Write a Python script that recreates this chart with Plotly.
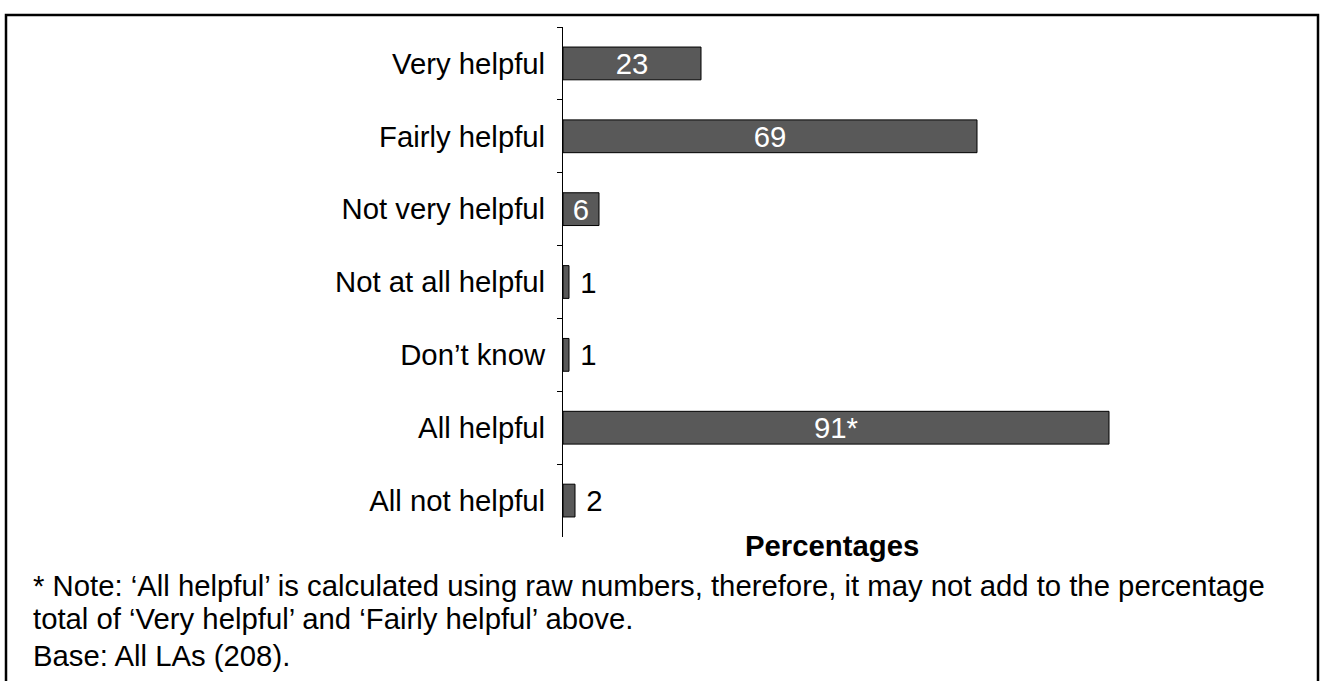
import plotly.graph_objects as go

categories = ["Very helpful", "Fairly helpful", "Not very helpful", "Not at all helpful",
              "Don\u2019t know", "All helpful", "All not helpful"]
values = [23, 69, 6, 1, 1, 91, 2]
labels = ["23", "69", "6", "1", "1", "91*", "2"]
note_1 = "* Note: \u2018All helpful\u2019 is calculated using raw numbers, therefore, it may not add to the percentage"
note_2 = "total of \u2018Very helpful\u2019 and \u2018Fairly helpful\u2019 above."
base_note = "Base: All LAs (208)."

W, H = 1320, 681
L, T = 563, 27
B = H - 537
pw = 600
R = W - L - pw
ph = H - T - B
FS = 29.3

def px(x):
    return (x - L) / pw

def py(y):
    return 1 - (y - T) / ph

positions = ["inside" if v >= 5 else "outside" for v in values]
text_colors = ["white" if v >= 5 else "black" for v in values]
templates = ["%{text}" if v >= 5 else " %{text}" for v in values]

fig = go.Figure()
fig.add_trace(go.Bar(
    x=values,
    y=categories,
    orientation="h",
    marker=dict(color="#595959", line=dict(color="black", width=1)),
    text=labels,
    texttemplate=templates,
    textposition=positions,
    textangle=0,
    insidetextanchor="middle",
    textfont=dict(color=text_colors, size=FS, family="Liberation Sans, Arial"),
    constraintext="none",
    cliponaxis=False,
    width=0.45,
))

fig.update_layout(
    width=W, height=H,
    margin=dict(l=L, r=R, t=T, b=B),
    plot_bgcolor="white",
    paper_bgcolor="white",
    font=dict(family="Liberation Sans, Arial", size=FS, color="black"),
    showlegend=False,
    xaxis=dict(range=[0, 100], visible=False, fixedrange=True),
    yaxis=dict(autorange="reversed", showline=True, linecolor="black", linewidth=1,
               ticks="outside", ticklen=5, tickcolor="black", tickson="boundaries",
               ticklabelstandoff=11, showgrid=False, zeroline=False, fixedrange=True),
)

fig.add_annotation(text="<b>Percentages</b>", xref="paper", yref="paper",
                   x=px(832), y=py(545), xanchor="center", yanchor="middle",
                   showarrow=False, font=dict(size=FS))
for txt, yy in [(note_1, 585), (note_2, 618), (base_note, 655)]:
    fig.add_annotation(text=txt, xref="paper", yref="paper",
                       x=px(31), y=py(yy), xanchor="left", yanchor="middle",
                       showarrow=False, font=dict(size=FS))

# outer frame round the whole chart
fig.add_shape(type="rect", xref="paper", yref="paper",
              x0=px(6), x1=px(1318), y0=py(700), y1=py(15),
              line=dict(color="black", width=2.5))

fig.write_html("out.html", config={"displayModeBar": False},
               post_script="document.body.style.margin='0';")
